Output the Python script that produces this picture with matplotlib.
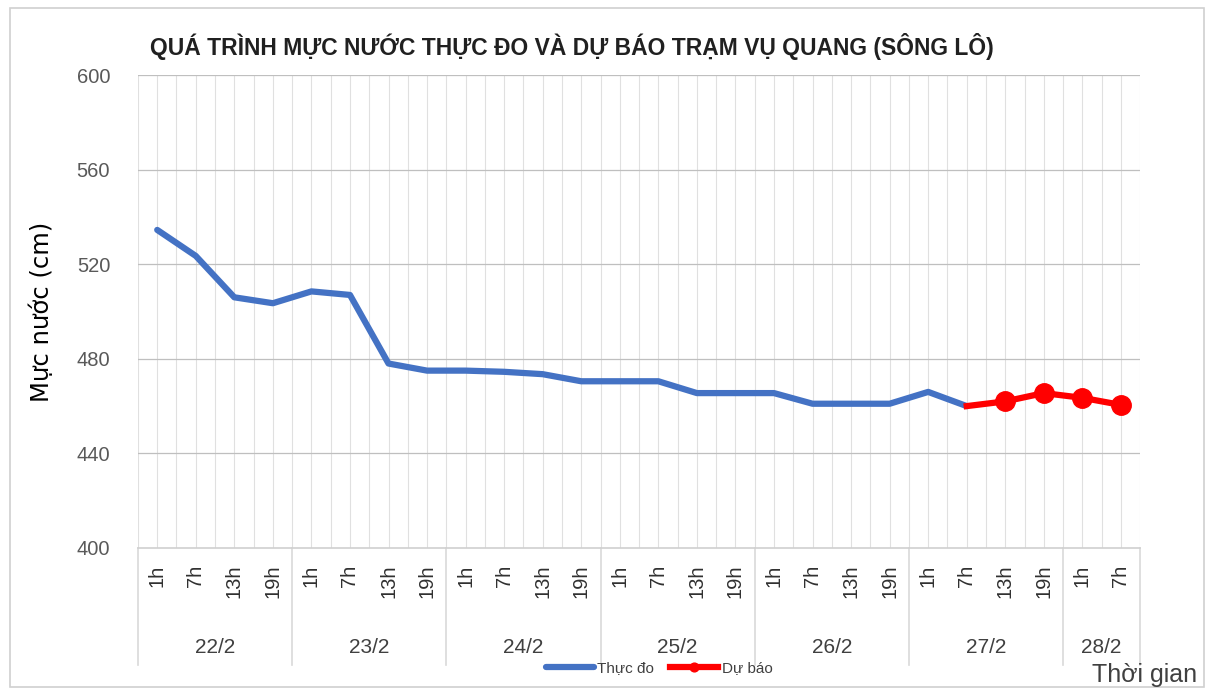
import matplotlib
matplotlib.use('Agg')
from matplotlib import pyplot as plt
from matplotlib.patches import Rectangle

# du lieu muc nuoc tram Vu Quang
dates = ['22/2', '23/2', '24/2', '25/2', '26/2', '27/2', '28/2']
hours_per_day = [4, 4, 4, 4, 4, 4, 2]
hours = ['1h', '7h', '13h', '19h'] * 6 + ['1h', '7h']

observed = [534.5, 523.5, 506, 503.5,
            508.5, 507, 478, 475,
            475, 474.5, 473.5, 470.5,
            470.5, 470.5, 465.5, 465.5,
            465.5, 461, 461, 461,
            466, 460]
forecast_start = 21  # 27/2 7h
forecast = [460, 462, 465.5, 463.5, 460.5]

plt.rcParams['font.family'] = ['Liberation Sans', 'DejaVu Sans']

fig = plt.figure(figsize=(12.09, 6.90), dpi=100)
ax = fig.add_axes([0.1141, 0.2058, 0.829, 0.6855])

# khung ngoai
fig.patches.append(Rectangle((0.008, 0.005), 0.988, 0.983, transform=fig.transFigure,
                             fill=False, edgecolor='#D0D0D0', lw=1.2))

n = len(hours)
x_obs = list(range(len(observed)))
x_fc = list(range(forecast_start, forecast_start + len(forecast)))

ax.plot(x_obs, observed, color='#4472C4', lw=4.5, solid_joinstyle='round',
        solid_capstyle='round', label='Thực đo', zorder=3)
ax.plot(x_fc, forecast, color='#FF0000', lw=4.5, marker='o', markersize=14,
        markevery=[1, 2, 3, 4], label='Dự báo', zorder=4)

ax.set_xlim(-0.5, n - 0.5)
ax.set_ylim(400, 600)
ax.set_yticks(range(400, 601, 40))

# luoi
for k in range(2 * n + 1):
    ax.axvline(-0.5 + k * 0.5, color='#E0E0E0', lw=0.8, zorder=0)
for yv in range(440, 601, 40):
    ax.axhline(yv, color='#BFBFBF', lw=0.9, zorder=1)

for s in ['top', 'right', 'left']:
    ax.spines[s].set_visible(False)
ax.spines['bottom'].set_color('#D0D0D0')
ax.spines['bottom'].set_linewidth(1.2)

ax.set_xticks(range(n))
ax.set_xticklabels(hours, rotation=90, va='top', fontsize=14.5, color='#303030')
ax.tick_params(axis='x', length=0, pad=12)
ax.tick_params(axis='y', length=0, pad=20, labelsize=14.5, labelcolor='#595959')

# nhom theo ngay
trans = ax.get_xaxis_transform()
pos = -0.5
for d, c in zip(dates, hours_per_day):
    ax.plot([pos, pos], [0, -0.247], transform=trans, clip_on=False,
            color='#D9D9D9', lw=1.2)
    ax.text(pos + c / 2, -0.211, d, transform=trans, ha='center', va='center',
            fontsize=15, color='#404040')
    pos += c
ax.plot([pos, pos], [0, -0.247], transform=trans, clip_on=False,
        color='#D9D9D9', lw=1.2)

ax.set_ylabel('Mực nước (cm)', fontsize=17.5, family=['DejaVu Sans'], labelpad=16)

fig.text(0.473, 0.932, 'QUÁ TRÌNH MỰC NƯỚC THỰC ĐO VÀ DỰ BÁO TRẠM VỤ QUANG (SÔNG LÔ)',
         ha='center', va='center', fontsize=16.5, fontweight='bold', color='#202020')
fig.text(0.947, 0.022, 'Thời gian', ha='center', va='center', fontsize=18, color='#404040')

fig.legend(loc='center', bbox_to_anchor=(0.545, 0.032), ncol=2, frameon=False,
           fontsize=11, handlelength=3.2, columnspacing=1.0, handletextpad=0.2,
           labelcolor='#404040', markerscale=0.45)

fig.savefig('out.png', dpi=100)
